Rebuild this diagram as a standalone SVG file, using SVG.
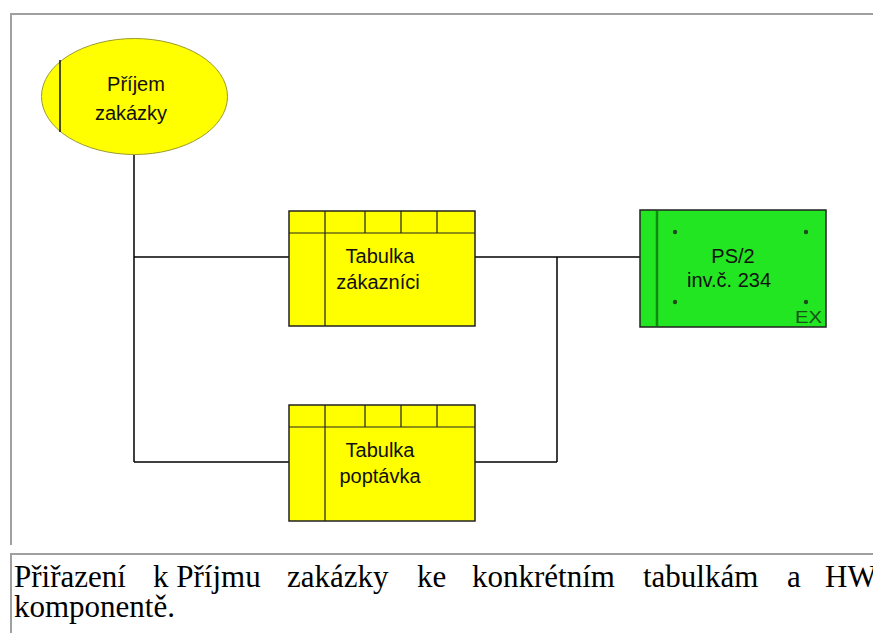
<svg xmlns="http://www.w3.org/2000/svg" width="873" height="633" viewBox="0 0 873 633">
  <style>
    .frame { stroke: #a0a0a0; stroke-width: 2; fill: none; }
    .wire { stroke: #000; stroke-width: 1.5; fill: none; }
    .table { fill: #ffff00; stroke: #222; stroke-width: 1.5; }
    .grid { stroke: #222; stroke-width: 1.2; fill: none; }
    .label { font-family: "Liberation Sans", Arial, sans-serif; font-size: 20px; fill: #111; text-anchor: middle; }
    .caption { font-family: "Liberation Serif", "Times New Roman", serif; font-size: 31px; fill: #000; }
  </style>

  <rect width="873" height="633" fill="#fff"/>

  <!-- panel borders -->
  <g id="frame">
    <path class="frame" d="M10 14 H873 M11 14 V545"/>
    <path class="frame" d="M10 554 H873 M11 554 V633"/>
  </g>

  <!-- connectors -->
  <g id="connectors">
    <path class="wire" d="M134 155 V462"/>
    <path class="wire" d="M134 257 H289"/>
    <path class="wire" d="M134 462 H289"/>
    <path class="wire" d="M475 257 H640"/>
    <path class="wire" d="M557 257 V462"/>
    <path class="wire" d="M475 462 H557"/>
  </g>

  <!-- event: order intake -->
  <g id="prijem-zakazky">
    <ellipse cx="134.5" cy="96.5" rx="93" ry="58" fill="#ffff00" stroke="#9a9a30" stroke-width="1"/>
    <path d="M60 60 V132" stroke="#111" stroke-width="1.5"/>
    <text class="label" x="136" y="91">Příjem</text>
    <text class="label" x="131" y="120">zakázky</text>
  </g>

  <!-- table: customers -->
  <g id="tabulka-zakaznici">
    <rect class="table" x="289" y="211" width="186" height="115"/>
    <path class="grid" d="M289 233 H475 M325 211 V326 M365 211 V233 M401 211 V233 M437 211 V233"/>
    <text class="label" x="380" y="263">Tabulka</text>
    <text class="label" x="378" y="289">zákazníci</text>
  </g>

  <!-- table: inquiries -->
  <g id="tabulka-poptavka">
    <rect class="table" x="289" y="405" width="186" height="116"/>
    <path class="grid" d="M289 427 H475 M325 405 V521 M365 405 V427 M401 405 V427 M437 405 V427"/>
    <text class="label" x="380" y="457">Tabulka</text>
    <text class="label" x="380" y="483">poptávka</text>
  </g>

  <!-- hardware component -->
  <g id="ps2">
    <rect x="640" y="210" width="186" height="117" fill="#22e622" stroke="#222" stroke-width="1.5"/>
    <path d="M657 211 V326" stroke="#0f8a0f" stroke-width="2.5"/>
    <g fill="#1d4a1d">
      <circle cx="675" cy="232" r="2.2"/>
      <circle cx="806" cy="232" r="2.2"/>
      <circle cx="675" cy="302" r="2.2"/>
      <circle cx="806" cy="302" r="2.2"/>
    </g>
    <text class="label" x="733" y="263">PS/2</text>
    <text class="label" x="729" y="287">inv.č. 234</text>
    <text x="795" y="323" font-family="Liberation Sans, Arial, sans-serif" font-size="16" fill="#155215" textLength="27" lengthAdjust="spacingAndGlyphs">EX</text>
  </g>

  <!-- caption -->
  <g id="caption">
    <text class="caption" y="587">
      <tspan x="14">Přiřazení</tspan>
      <tspan x="153">k Příjmu</tspan>
      <tspan x="287">zakázky</tspan>
      <tspan x="417">ke</tspan>
      <tspan x="472">konkrétním</tspan>
      <tspan x="643">tabulkám</tspan>
      <tspan x="787">a</tspan>
      <tspan x="825">HW</tspan>
    </text>
    <text class="caption" x="14" y="617">komponentě.</text>
  </g>
</svg>
